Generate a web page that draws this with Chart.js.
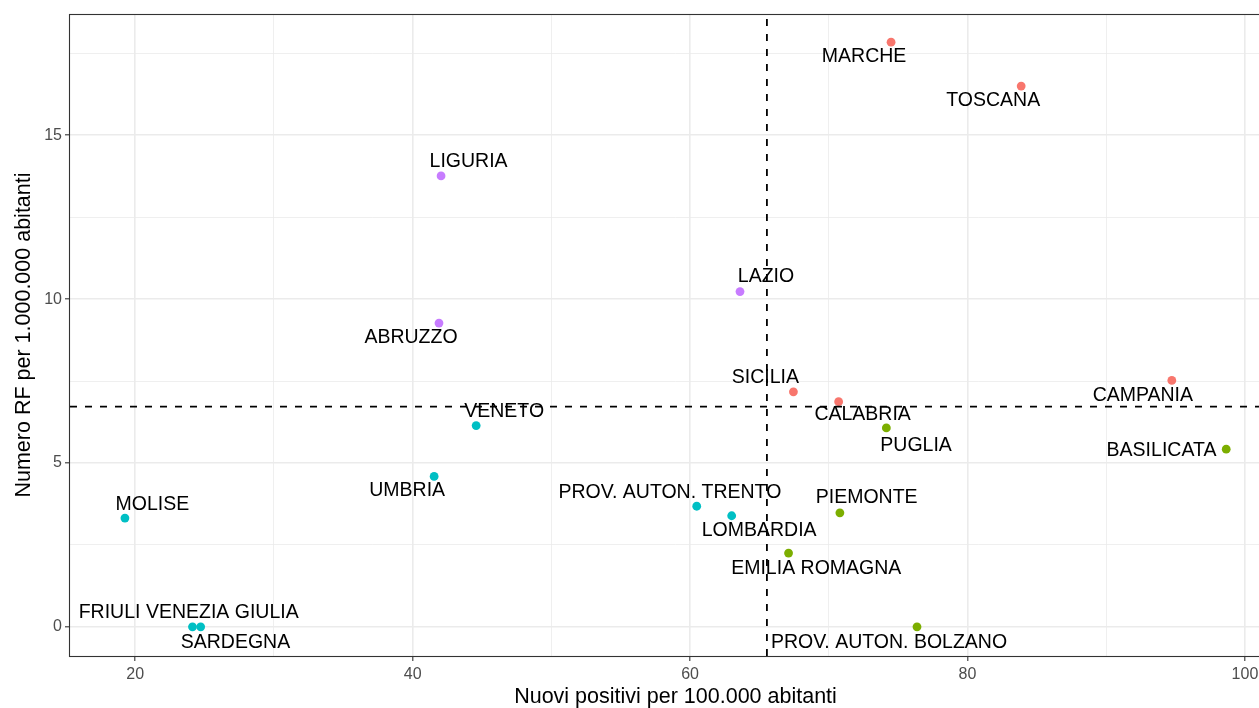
<!DOCTYPE html>
<html>
<head>
<meta charset="utf-8">
<script src="https://cdn.jsdelivr.net/npm/chart.js@4/dist/chart.umd.min.js"></script>
<style>
  html, body { margin: 0; padding: 0; background: #fff; overflow: hidden; width: 1259px; height: 708px; }
  #box { width: 1300px; height: 708px; position: relative; }
</style>
</head>
<body>
<div id="box"><canvas id="grafico"></canvas></div>
<script>
// Dati: regioni, nuovi positivi per 100.000 ab., numero RF per 1.000.000 ab., gruppo
const regioni = ['MARCHE', 'TOSCANA', 'LIGURIA', 'LAZIO', 'ABRUZZO', 'SICILIA', 'CAMPANIA', 'CALABRIA',
  'VENETO', 'PUGLIA', 'BASILICATA', 'UMBRIA', 'MOLISE', 'PROV. AUTON. TRENTO', 'LOMBARDIA',
  'PIEMONTE', 'EMILIA ROMAGNA', 'FRIULI VENEZIA GIULIA', 'SARDEGNA', 'PROV. AUTON. BOLZANO'];
const nuoviPositivi = [74.49, 83.87, 42.05, 63.6, 41.9, 67.45, 94.73, 70.71,
  44.58, 74.15, 98.65, 41.55, 19.26, 60.48, 63.0,
  70.8, 67.1, 24.13, 24.72, 76.36];
const numeroRF = [17.84, 16.50, 13.76, 10.23, 9.27, 7.17, 7.52, 6.87,
  6.14, 6.07, 5.42, 4.59, 3.32, 3.68, 3.39,
  3.48, 2.25, 0, 0, 0];
const gruppo = [0, 0, 3, 3, 3, 0, 0, 0,
  2, 1, 1, 2, 2, 2, 2,
  1, 1, 2, 2, 1];

// medie (linee tratteggiate)
const mediaX = 65.54;
const mediaY = 6.72;

// limiti degli assi
const xMin = 15.3, xMax = 102.6;
const yMin = -0.89, yMax = 18.7;

// colori ggplot
const coloriGruppo = ['#F8766D', '#7CAE00', '#00BFC4', '#C77CFF'];

// spostamento etichette (px) rispetto al punto
const spostamenti = [[-27, 14.5], [-28, 14.5], [27.5, -14], [26, -14.6], [-28, 15], [-28, -14.4], [-29, 15.4], [24, 13.3],
  [28, -14], [29.7, 17.7], [-64.7, 1.7], [-27, 14.7], [27.5, -13.7], [-26.8, -13.9], [27.5, 15],
  [26.8, -14.7], [27.7, 15.7], [-3.8, -14.4], [34.8, 15.6], [-28, 15.6]];

const punti = nuoviPositivi.map((x, i) => ({ x: x, y: numeroRF[i] }));

// etichette dei punti
const etichettePlugin = {
  id: 'etichette',
  afterDatasetDraw(chart, args) {
    if (args.index !== 0) return;
    const ctx = chart.ctx;
    ctx.save();
    ctx.font = '19.5px "Liberation Sans", Arial, sans-serif';
    ctx.fillStyle = '#000000';
    ctx.textAlign = 'center';
    ctx.textBaseline = 'middle';
    args.meta.data.forEach((pt, i) => {
      const [dx, dy] = spostamenti[i];
      ctx.fillText(regioni[i], pt.x + dx, pt.y + dy);
    });
    ctx.restore();
  }
};

// cornice del pannello (theme_bw)
const cornicePlugin = {
  id: 'cornice',
  afterDraw(chart) {
    const { left, top, right, bottom } = chart.chartArea;
    const ctx = chart.ctx;
    ctx.save();
    ctx.strokeStyle = '#333333';
    ctx.lineWidth = 1.1;
    ctx.strokeRect(Math.round(left) - 0.5, Math.round(top) + 0.5, right - left, bottom - top);
    ctx.restore();
  }
};

const isMajor = (v, passo) => Math.abs(v / passo - Math.round(v / passo)) < 1e-6;

new Chart(document.getElementById('grafico'), {
  type: 'scatter',
  data: {
    datasets: [
      {
        data: punti,
        backgroundColor: gruppo.map(g => coloriGruppo[g]),
        borderWidth: 0,
        pointRadius: 4.4,
        order: 1
      },
      {
        type: 'line',
        data: [{ x: mediaX, y: yMin }, { x: mediaX, y: yMax }],
        borderColor: '#000000',
        borderWidth: 1.8,
        borderDash: [7, 8],
        pointRadius: 0,
        order: 0
      },
      {
        type: 'line',
        data: [{ x: xMin, y: mediaY }, { x: xMax, y: mediaY }],
        borderColor: '#000000',
        borderWidth: 1.8,
        borderDash: [7, 8],
        pointRadius: 0,
        order: 0
      }
    ]
  },
  options: {
    responsive: true,
    maintainAspectRatio: false,
    animation: false,
    layout: { padding: { top: 14, right: 19, left: 0, bottom: 0 } },
    plugins: { legend: { display: false }, tooltip: { enabled: false } },
    scales: {
      x: {
        type: 'linear',
        min: xMin,
        max: xMax,
        afterFit: s => { s.height = 52; },
        border: { display: false },
        grid: {
          color: '#EBEBEB',
          lineWidth: c => isMajor(c.tick.value, 20) ? 1.6 : 0.8,
          tickColor: c => isMajor(c.tick.value, 20) ? '#333333' : 'rgba(0,0,0,0)',
          tickLength: 5,
          tickWidth: 1.1
        },
        ticks: {
          stepSize: 10,
          includeBounds: false,
          autoSkip: false,
          maxRotation: 0,
          padding: 6,
          color: '#4D4D4D',
          font: { family: '"Liberation Sans", Arial, sans-serif', size: 16, lineHeight: 1 },
          callback: v => isMajor(v, 20) ? String(v) : ''
        },
        title: {
          display: true,
          text: 'Nuovi positivi per 100.000 abitanti',
          color: '#000000',
          padding: { top: 0, bottom: 0 },
          font: { family: '"Liberation Sans", Arial, sans-serif', size: 21.5, lineHeight: 1 }
        }
      },
      y: {
        type: 'linear',
        min: yMin,
        max: yMax,
        afterFit: s => { s.width = 70; },
        border: { display: false },
        grid: {
          color: '#EBEBEB',
          lineWidth: c => isMajor(c.tick.value, 5) ? 1.6 : 0.8,
          tickColor: c => isMajor(c.tick.value, 5) ? '#333333' : 'rgba(0,0,0,0)',
          tickLength: 5,
          tickWidth: 1.1
        },
        ticks: {
          stepSize: 2.5,
          includeBounds: false,
          autoSkip: false,
          padding: 3,
          color: '#4D4D4D',
          font: { family: '"Liberation Sans", Arial, sans-serif', size: 16, lineHeight: 1 },
          callback: v => isMajor(v, 5) ? String(v) : ''
        },
        title: {
          display: true,
          text: 'Numero RF per 1.000.000 abitanti',
          color: '#000000',
          padding: { top: 13.5, bottom: 0 },
          font: { family: '"Liberation Sans", Arial, sans-serif', size: 21.5, lineHeight: 1 }
        }
      }
    }
  },
  plugins: [etichettePlugin, cornicePlugin]
});
</script>
</body>
</html>
